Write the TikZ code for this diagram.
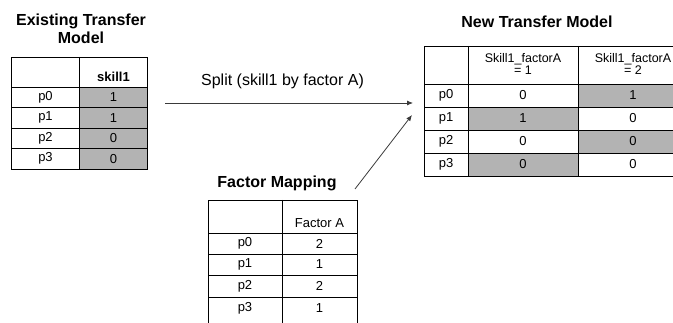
\documentclass[tikz,border=0pt]{standalone}
\usepackage{fontspec}
\setmainfont{Liberation Sans}
\usepackage{tikz}
\usetikzlibrary{arrows.meta}
\definecolor{cellgray}{HTML}{B3B3B3}
\definecolor{arrowgray}{HTML}{3A3A3A}
\tikzset{
  grid/.style={draw=black,line width=0.7pt},
  celltxt/.style={inner sep=0pt,font=\fontsize{13}{15}\selectfont},
  headtxt/.style={inner sep=0pt,align=center,font=\fontsize{12.5}{10.5}\selectfont},
  title/.style={inner sep=0pt,align=center,font=\bfseries\fontsize{16}{18}\selectfont},
  splitarrow/.style={draw=arrowgray,line width=0.8pt,-{Latex[length=6pt,width=5pt]}}
}
\begin{document}
\begin{tikzpicture}[x=1pt,y=-1pt]
\useasboundingbox (0,0) rectangle (673,323);
\clip (0,0) rectangle (673,323);
\node[title] (oldtitle) at (81,29) {Existing Transfer\\Model};
\fill[cellgray] (79.5,87) rectangle (147.5,169);
\draw[grid] (11.5,57) rectangle (147.5,169);
\draw[grid] (79.5,57) -- (79.5,169);
\foreach \y in {87,107.5,128,148.5} {\draw[grid] (11.5,\y) -- (147.5,\y);}
\node[celltxt,font=\bfseries\fontsize{13}{15}\selectfont] (oldhead) at (113.5,77) {skill1};
\foreach \v [count=\i from 0] in {1,1,0,0} {
  \node[celltxt] (old-p\i) at (45.5,97.25+20.5*\i) {p\i};
  \node[celltxt] (old-v\i) at (113.5,97.25+20.5*\i) {\v};
}
\node[title] (newtitle) at (537,22) {New Transfer Model};
\fill[cellgray] (578,84) rectangle (688,107);
\fill[cellgray] (468,107) rectangle (578,130);
\fill[cellgray] (578,130) rectangle (688,153);
\fill[cellgray] (468,153) rectangle (578,176);
\draw[grid] (424,46) rectangle (688,176);
\foreach \x in {468,578} {\draw[grid] (\x,46) -- (\x,176);}
\foreach \y in {84,107,130,153} {\draw[grid] (424,\y) -- (688,\y);}
\node[headtxt] (newhead1) at (523,64) {Skill1\_factorA\\= 1};
\node[headtxt] (newhead2) at (633,64) {Skill1\_factorA\\= 2};
\foreach \a/\b [count=\i from 0] in {0/1,1/0,0/0,0/0} {
  \node[celltxt] (new-p\i) at (446,95.5+23*\i) {p\i};
  \node[celltxt] (new-a\i) at (523,95.5+23*\i) {\a};
  \node[celltxt] (new-b\i) at (633,95.5+23*\i) {\b};
}
\node[title] (maptitle) at (277,183) {Factor Mapping};
\draw[grid] (208,200) rectangle (357,330);
\draw[grid] (282,200) -- (282,330);
\foreach \y in {233,254,275,297} {\draw[grid] (208,\y) -- (357,\y);}
\node[celltxt] (maphead) at (319.5,223) {Factor A};
\foreach \v/\y [count=\i from 0] in {2/243.5,1/264.5,2/286,1/308} {
  \node[celltxt] (map-p\i) at (245,\y) {p\i};
  \node[celltxt] (map-v\i) at (319.5,\y) {\v};
}
\coordinate (splitfrom) at (165,103);
\coordinate (splitto) at (413,103);
\coordinate (mapfrom) at (355,189);
\coordinate (mapto) at (412,115);
\node[inner sep=0pt,font=\fontsize{16}{18}\selectfont] (splitlabel) at (282.5,81) {Split (skill1 by factor A)};
\draw[splitarrow] (splitfrom) -- (splitto);
\draw[splitarrow] (mapfrom) -- (mapto);
\end{tikzpicture}
\end{document}
